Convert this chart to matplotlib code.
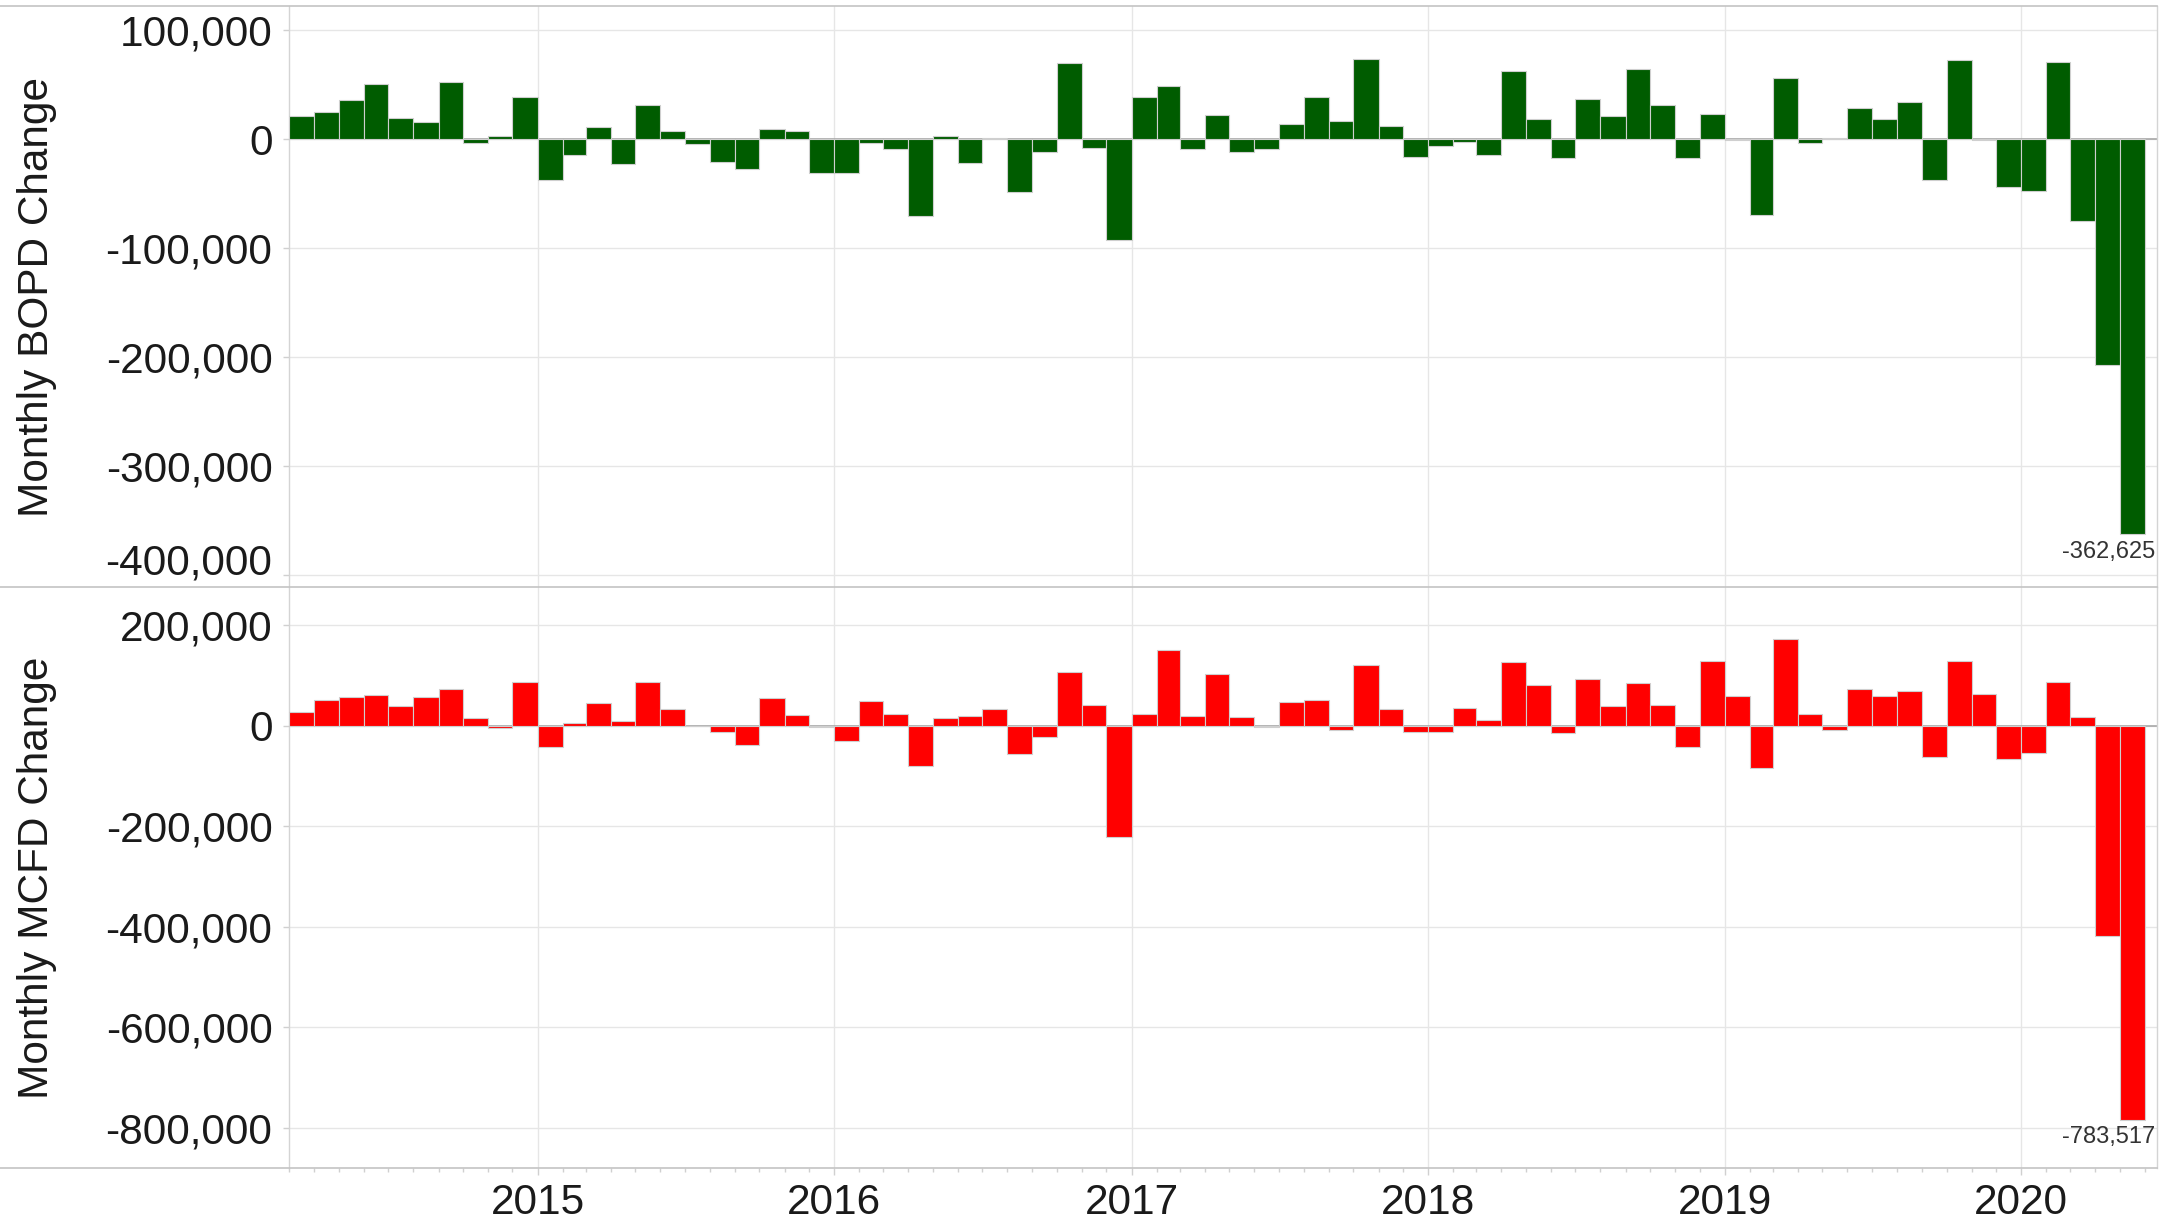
import matplotlib
matplotlib.use("Agg")
import matplotlib.pyplot as plt
import matplotlib.dates as mdates
from matplotlib.lines import Line2D
from matplotlib.ticker import FuncFormatter, MultipleLocator
import pandas as pd

plt.rcParams['font.family'] = ['Liberation Sans', 'DejaVu Sans']

# monthly changes, Mar 2014 .. May 2020
months = pd.date_range("2014-03-01", "2020-05-01", freq="MS")

bopd_change = [
    21500, 25500, 35700, 51000, 20000, 15700, 52700, -3000, 3000, 38500,
    -37000, -14500, 11700, -22800, 31400, 7700, -4300, -21300, -27400, 9200, 7700, -31400,
    -31400, -3000, -8900, -70800, 3400, -21500, 1000, -48800, -11300, 70200, -8200, -92100,
    39300, 49100, -8800, 22600, -11300, -8800, 14300, 39300, 17100, 74100, 11900, -15900,
    -5800, -2700, -14300, 63100, 18900, -17100, 36600, 21400, 64400, 31400, -16800, 22900,
    -500, -69200, 56100, -3000, 1000, 28400, 18600, 33900, -37800, 72600, -1000, -43900,
    -47900, 71400, -75300, -207500, -362625,
]

mcfd_change = [
    26500, 51000, 57000, 60300, 39100, 57000, 72300, 14600, -5300, 87500,
    -41800, 5300, 44400, 8600, 87500, 33200, -1000, -11900, -39100, 54400, 20600, -2000,
    -29800, 48400, 23200, -80900, 14600, 19900, 33200, -57000, -23200, 106100, 41800, -220800,
    23200, 150500, 19900, 102800, 17900, -2000, 47700, 51000, -9300, 120700, 33200, -12600,
    -12600, 35800, 11900, 126600, 80900, -14600, 92800, 38500, 84200, 41800, -41800, 129300,
    59700, -84200, 171700, 23200, -8600, 72300, 59700, 69600, -61700, 129300, 63000, -67000,
    -53700, 87500, 17200, -419000, -783517,
]

panels = [
    ("Monthly BOPD Change", bopd_change, "#005c00", (-411500, 122500), 100000),
    ("Monthly MCFD Change", mcfd_change, "#ff0000", (-880000, 276000), 200000),
]

fig = plt.figure(figsize=(21.75, 12.22), dpi=100)
rects = [[0.1329, 0.5196, 0.8588, 0.4755], [0.1329, 0.0442, 0.8588, 0.4754]]
widths = months.days_in_month.values
xmin, xmax = pd.Timestamp("2014-03-01"), pd.Timestamp("2020-06-16")
fsize = 30.5

axes = []
for rect, (label, vals, color, ylim, step) in zip(rects, panels):
    ax = fig.add_axes(rect)
    ax.bar(months, vals, width=widths, align='edge', color=color,
           edgecolor='#cfcfcf', linewidth=0.8, zorder=3)
    ax.axhline(0, color='#a8a8a8', lw=1.2, zorder=2)
    ax.set_xlim(xmin, xmax)
    ax.set_ylim(*ylim)
    ax.yaxis.set_major_locator(MultipleLocator(step))
    ax.yaxis.set_major_formatter(FuncFormatter(lambda v, p: f"{v:,.0f}"))
    ax.xaxis.set_major_locator(mdates.YearLocator())
    ax.xaxis.set_major_formatter(mdates.DateFormatter("%Y"))
    ax.xaxis.set_minor_locator(mdates.MonthLocator())
    ax.grid(True, which='major', color='#e6e6e6', lw=1.0, zorder=0)
    for s in ('top', 'bottom'):
        ax.spines[s].set_visible(False)
    for s in ('left', 'right'):
        ax.spines[s].set_color('#d4d4d4')
        ax.spines[s].set_linewidth(1.0)
    ax.tick_params(axis='y', labelsize=fsize, colors='#d0d0d0', labelcolor='#1a1a1a',
                   length=4, width=1, pad=8)
    ax.tick_params(axis='x', which='major', labelsize=fsize, colors='#d0d0d0',
                   labelcolor='#1a1a1a', length=5, width=1, pad=6)
    ax.tick_params(axis='x', which='minor', colors='#d0d0d0', length=3, width=1)
    fig.text(0.017, rect[1] + rect[3] / 2, label, rotation=90, fontsize=fsize,
             ha='center', va='center', color='#1a1a1a')
    last = vals[-1]
    ax.annotate(f"{last:,}", xy=(0.999, last), xycoords=('axes fraction', 'data'),
                xytext=(0, -5), textcoords='offset points', ha='right', va='top',
                fontsize=17, color='#333333')
    axes.append(ax)

axes[0].tick_params(axis='x', which='both', bottom=False, labelbottom=False)

# pane borders spanning the full width
for yfrac in (0.9951, 0.5196, 0.0442):
    fig.add_artist(Line2D([0, 0.9917], [yfrac, yfrac], color='#c4c4c4', lw=1.2,
                          transform=fig.transFigure))

# lowest label of the top pane sits on its gridline, as in the original
fig.canvas.draw()
for t in axes[0].get_yticklabels():
    if t.get_text() == "-400,000":
        t.set_verticalalignment('baseline')

fig.savefig("out.png", dpi=100)
